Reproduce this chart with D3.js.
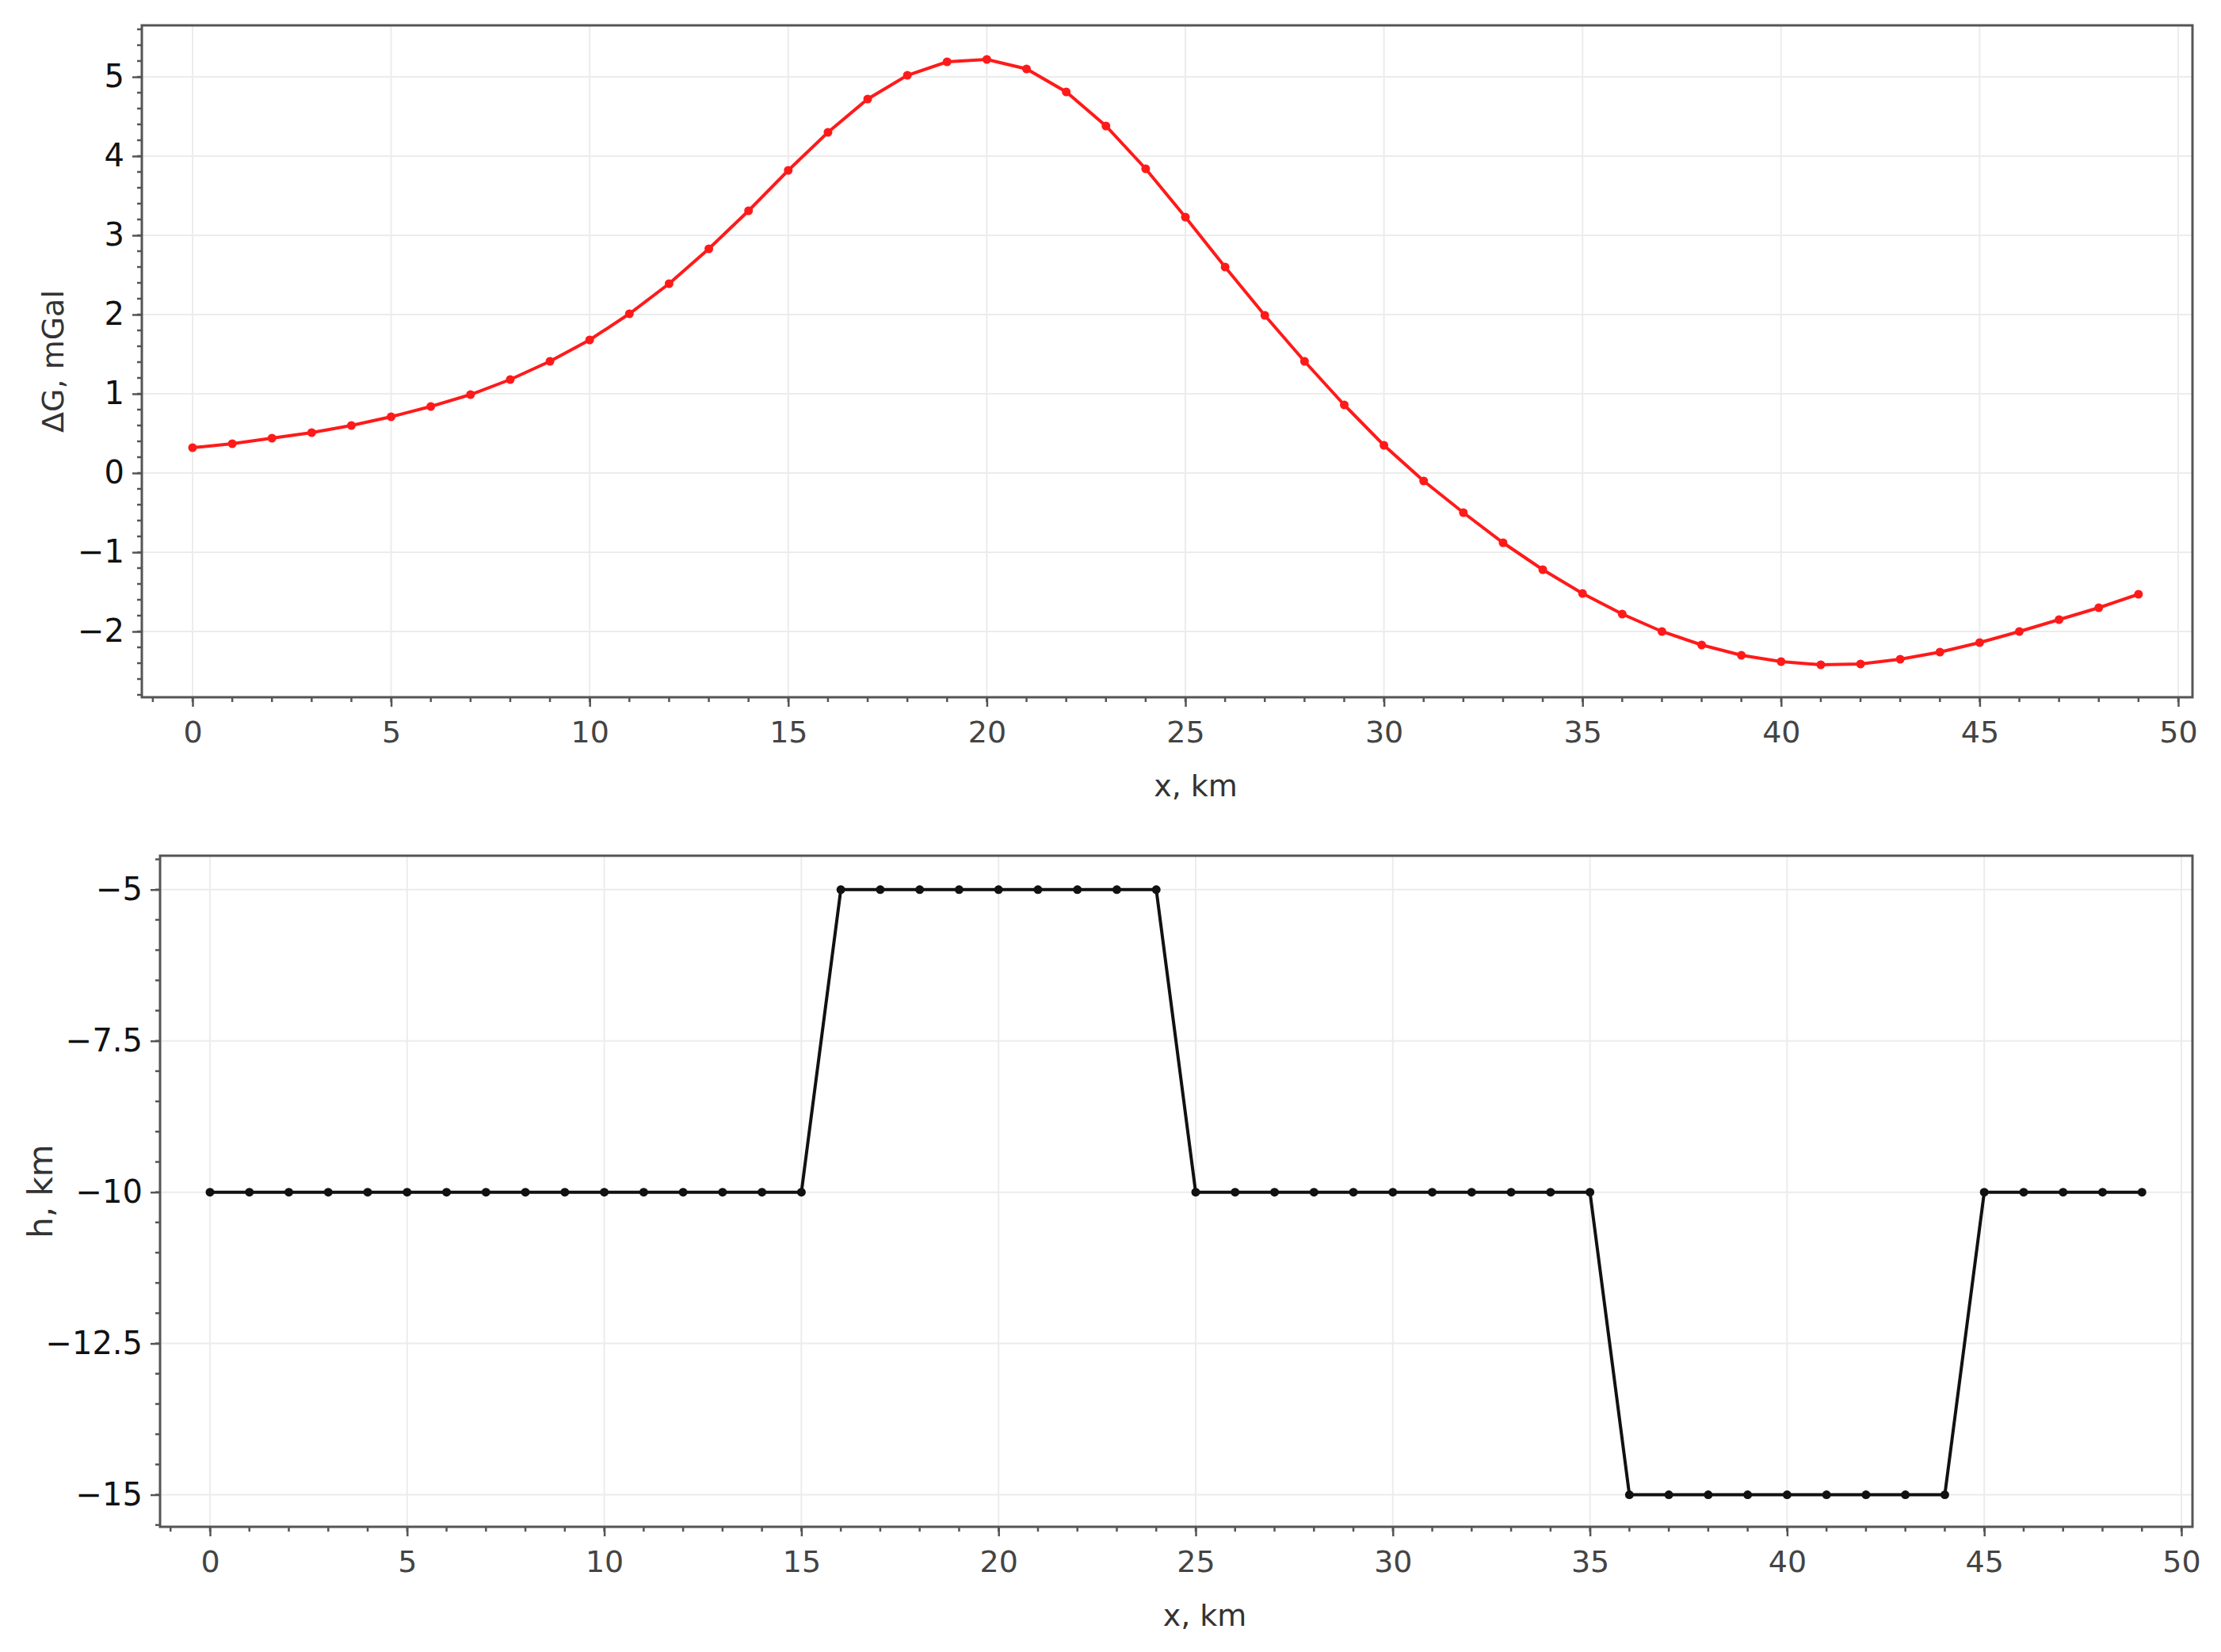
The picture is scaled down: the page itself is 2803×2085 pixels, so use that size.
<!DOCTYPE html>
<html><head><meta charset="utf-8">
<script src="https://cdn.jsdelivr.net/npm/d3@7"></script>
<style>body{margin:0;background:#fff}text{font-family:"DejaVu Sans",sans-serif}</style>
</head><body><svg></svg>
<script>
const xs = d3.range(0, 50);
const gravity = [0.32,0.37,0.44,0.51,0.6,0.71,0.84,0.99,1.18,1.41,1.68,2.01,2.39,2.83,3.31,3.82,4.3,4.72,5.02,5.19,5.22,5.1,4.81,4.38,3.84,3.23,2.6,1.99,1.41,0.86,0.35,-0.1,-0.5,-0.88,-1.22,-1.52,-1.78,-2.0,-2.17,-2.3,-2.38,-2.42,-2.41,-2.35,-2.26,-2.14,-2.0,-1.85,-1.7,-1.53];
const depth = [-10,-10,-10,-10,-10,-10,-10,-10,-10,-10,-10,-10,-10,-10,-10,-10,-5,-5,-5,-5,-5,-5,-5,-5,-5,-10,-10,-10,-10,-10,-10,-10,-10,-10,-10,-10,-15,-15,-15,-15,-15,-15,-15,-15,-15,-10,-10,-10,-10,-10];
const xTicks = d3.range(0, 55, 5);
const gTicks = [-2,-1,0,1,2,3,4,5];
const hTicks = [-5,-7.5,-10,-12.5,-15];

const W = 2803, H = 2085;
const svg = d3.select("svg").attr("width", W).attr("height", H);

function panel(o) {
  const x = d3.scaleLinear().domain([0,50]).range([o.x0, o.x50]);
  const y = d3.scaleLinear().domain(o.ydom).range([o.bottom, o.top]);
  const g = svg.append("g");
  // grid
  g.selectAll(".gx").data(xTicks).join("line").attr("x1", d=>x(d)).attr("x2", d=>x(d))
    .attr("y1", o.top).attr("y2", o.bottom).attr("stroke", "#ececec").attr("stroke-width", 2);
  g.selectAll(".gy").data(o.ticks).join("line").attr("y1", d=>y(d)).attr("y2", d=>y(d))
    .attr("x1", o.left).attr("x2", o.right).attr("stroke", "#ececec").attr("stroke-width", 2);
  // minor ticks
  const xmin = d3.range(-1, 51, 1).filter(d => x(d) > o.left && x(d) < o.right);
  g.selectAll(".mx").data(xmin).join("line").attr("x1", d=>x(d)).attr("x2", d=>x(d))
    .attr("y1", o.bottom).attr("y2", o.bottom + 6).attr("stroke", "#555").attr("stroke-width", 2.5);
  const ymin = d3.range(Math.ceil(o.ydom[0]/o.minor), Math.floor(o.ydom[1]/o.minor)+1).map(k => k*o.minor);
  g.selectAll(".my").data(ymin).join("line").attr("y1", d=>y(d)).attr("y2", d=>y(d))
    .attr("x1", o.left - 6).attr("x2", o.left).attr("stroke", "#555").attr("stroke-width", 2.5);
  // axes
  const ax = g.append("g").attr("transform", `translate(0,${o.bottom})`)
    .call(d3.axisBottom(x).tickValues(xTicks).tickSize(12).tickPadding(18));
  ax.selectAll("text").attr("fill", "#444").style("font-size", "38px");
  const ay = g.append("g").attr("transform", `translate(${o.left},0)`)
    .call(d3.axisLeft(y).tickValues(o.ticks).tickSize(12).tickPadding(10).tickFormat(d => String(d).replace("-", "\u2212")));
  ay.selectAll("text").attr("fill", "#111").style("font-size", "40px");
  [ax, ay].forEach(a => { a.select(".domain").remove(); a.selectAll("line").attr("stroke", "#555").attr("stroke-width", 2.5); });
  g.append("rect").attr("x", o.left).attr("y", o.top).attr("width", o.right - o.left).attr("height", o.bottom - o.top)
    .attr("fill", "none").attr("stroke", "#555").attr("stroke-width", 3);
  // data
  const pts = xs.map((d, i) => [d, o.vals[i]]);
  g.append("path").attr("d", d3.line().x(d=>x(d[0])).y(d=>y(d[1]))(pts))
    .attr("fill", "none").attr("stroke", o.color).attr("stroke-width", 4);
  g.selectAll(".pt").data(pts).join("circle").attr("cx", d=>x(d[0])).attr("cy", d=>y(d[1]))
    .attr("r", 5.5).attr("fill", o.color);
  // labels
  g.append("text").attr("x", (o.left + o.right)/2 + 36).attr("y", o.bottom + 125).attr("text-anchor", "middle")
    .style("font-size", "38px").attr("fill", "#333").text("x, km");
  g.append("text").attr("transform", `translate(${o.ylabX},${(o.top+o.bottom)/2}) rotate(-90)`)
    .attr("text-anchor", "middle").style("font-size", o.ylabSize).attr("fill", "#333").text(o.ylab);
}

panel({left:179, right:2767, top:32, bottom:880, x0:243, x50:2749, ydom:[-2.83,5.65],
  ticks:gTicks, minor:0.2, vals:gravity, color:"#ff1a1a", ylab:"\u0394G, mGal", ylabX:80, ylabSize:"38px"});
panel({left:202, right:2767, top:1080, bottom:1927, x0:265, x50:2753, ydom:[-15.53,-4.44],
  ticks:hTicks, minor:0.5, vals:depth, color:"#111", ylab:"h, km", ylabX:66, ylabSize:"42px"});
</script></body></html>
